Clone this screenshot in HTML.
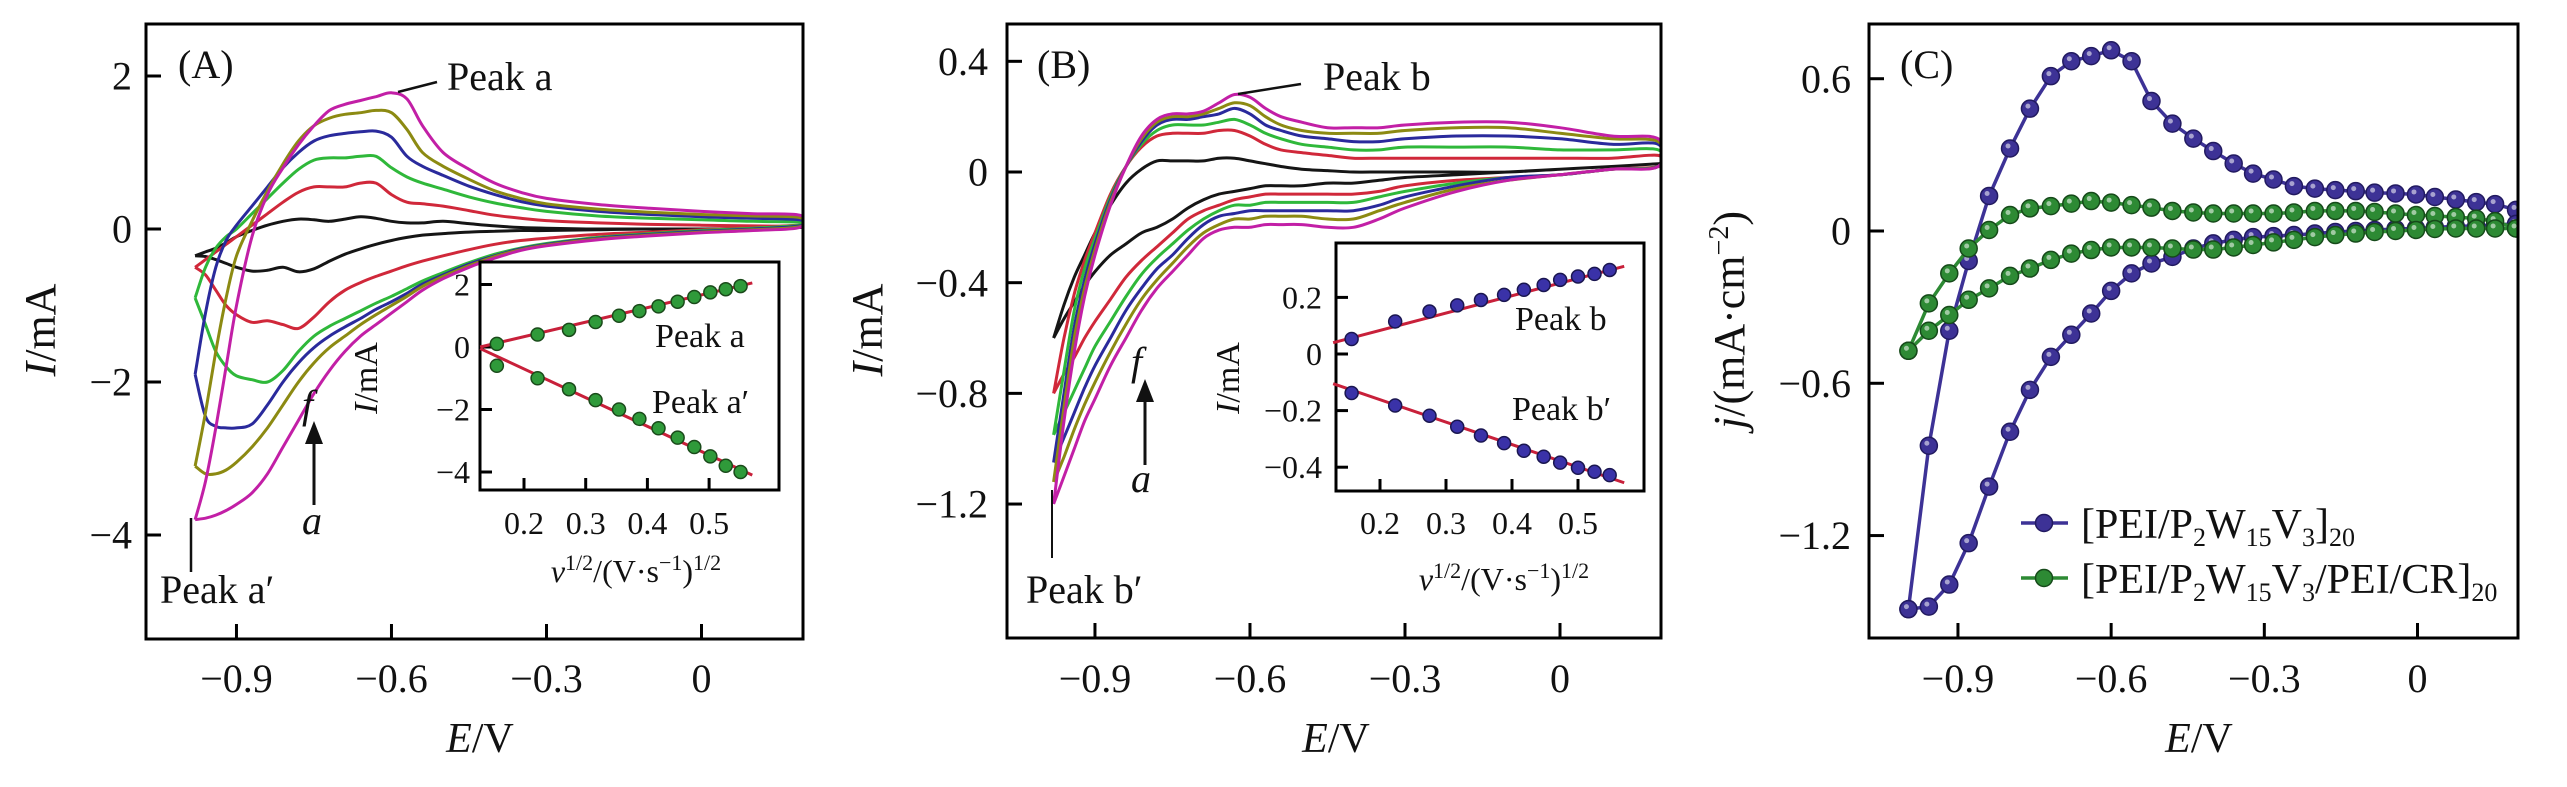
<!DOCTYPE html>
<html><head><meta charset="utf-8">
<style>
html,body{margin:0;padding:0;background:#fff;}
svg{display:block;font-family:"Liberation Serif",serif;}
</style></head>
<body>
<svg id="fig" width="2567" height="787" viewBox="0 0 2567 787" xmlns="http://www.w3.org/2000/svg">
</svg>
<script>
// ---------- DATA ----------
const gridE = [-0.98,-0.96,-0.94,-0.92,-0.9,-0.87,-0.84,-0.81,-0.78,-0.75,-0.72,-0.69,-0.66,-0.63,-0.6,-0.57,-0.54,-0.5,-0.45,-0.4,-0.35,-0.3,-0.2,-0.1,0,0.1,0.19];
const curveNames = ['a-black','b-red','c-green','d-blue','e-olive','f-magenta'];
const curveColors = ['#151515','#d0283a','#2fb83a','#2a2a9c','#8c8a12','#c21fa6'];
// Panel A (I / mA)
const aUpperK = [-0.35,-0.3,-0.25,-0.18,-0.1,-0.02,0.05,0.1,0.13,0.12,0.1,0.13,0.16,0.14,0.1,0.08,0.08,0.1,0.07,0.04,0.02,0.01,0,0,0,0.01,0.02];
const aLowerK = [-0.35,-0.36,-0.4,-0.45,-0.5,-0.55,-0.54,-0.5,-0.56,-0.52,-0.42,-0.33,-0.26,-0.2,-0.15,-0.11,-0.08,-0.06,-0.04,-0.03,-0.02,-0.02,-0.01,0,0,0.01,0.02];
const aUpperR = [-0.5,-0.4,-0.3,-0.2,-0.1,0.05,0.2,0.35,0.48,0.55,0.55,0.55,0.6,0.6,0.45,0.35,0.33,0.3,0.24,0.18,0.14,0.11,0.08,0.06,0.05,0.04,0.04];
const aLowerR = [-0.5,-0.6,-0.8,-1.0,-1.12,-1.22,-1.2,-1.25,-1.3,-1.15,-0.95,-0.8,-0.7,-0.62,-0.55,-0.48,-0.42,-0.35,-0.27,-0.2,-0.15,-0.12,-0.07,-0.04,-0.01,0.02,0.05];
const aUpperG = [-0.9,-0.5,-0.25,-0.1,0.0,0.2,0.4,0.6,0.78,0.9,0.93,0.93,0.95,0.95,0.8,0.68,0.6,0.52,0.42,0.34,0.28,0.23,0.17,0.14,0.12,0.1,0.09];
const aLowerG = [-0.9,-1.25,-1.6,-1.8,-1.92,-1.97,-2.0,-1.85,-1.6,-1.4,-1.27,-1.17,-1.07,-0.97,-0.88,-0.78,-0.68,-0.57,-0.44,-0.33,-0.25,-0.19,-0.11,-0.06,-0.02,0.01,0.05];
const aUpperB = [-1.9,-1.1,-0.5,-0.15,0.05,0.3,0.55,0.8,1.0,1.15,1.22,1.25,1.27,1.28,1.2,0.95,0.82,0.7,0.56,0.45,0.36,0.3,0.23,0.19,0.16,0.14,0.12];
const aLowerB = [-1.9,-2.45,-2.58,-2.6,-2.6,-2.55,-2.3,-2.0,-1.75,-1.55,-1.4,-1.28,-1.17,-1.05,-0.95,-0.84,-0.72,-0.6,-0.46,-0.35,-0.26,-0.2,-0.12,-0.07,-0.03,0,0.04];
const aUpperO = [-3.1,-2.4,-1.6,-0.9,-0.35,0.1,0.5,0.85,1.15,1.35,1.45,1.5,1.52,1.55,1.52,1.3,1.0,0.82,0.65,0.5,0.4,0.33,0.26,0.22,0.19,0.17,0.15];
const aLowerO = [-3.1,-3.2,-3.2,-3.15,-3.05,-2.85,-2.6,-2.3,-2.0,-1.75,-1.55,-1.4,-1.25,-1.12,-1.0,-0.88,-0.75,-0.62,-0.48,-0.36,-0.27,-0.21,-0.13,-0.08,-0.04,-0.01,0.03];
const aUpperM = [-3.8,-3.3,-2.6,-1.8,-1.0,-0.1,0.45,0.8,1.1,1.35,1.55,1.63,1.68,1.73,1.78,1.7,1.35,1.0,0.78,0.6,0.48,0.4,0.32,0.27,0.23,0.2,0.18];
const aLowerM = [-3.8,-3.78,-3.74,-3.68,-3.6,-3.45,-3.2,-2.85,-2.5,-2.15,-1.85,-1.6,-1.4,-1.25,-1.1,-0.95,-0.8,-0.65,-0.5,-0.38,-0.28,-0.22,-0.14,-0.09,-0.05,-0.02,0.02];
// Panel B (I / mA)
const bUpperK = [-0.6,-0.48,-0.38,-0.3,-0.22,-0.12,-0.04,0.01,0.04,0.04,0.04,0.04,0.05,0.05,0.04,0.03,0.02,0.01,0.005,0,0,0,0,0,0.01,0.02,0.03];
const bLowerK = [-0.6,-0.53,-0.47,-0.41,-0.36,-0.3,-0.26,-0.22,-0.2,-0.17,-0.13,-0.1,-0.08,-0.07,-0.06,-0.05,-0.05,-0.05,-0.04,-0.04,-0.03,-0.02,-0.01,0,0.01,0.02,0.03];
const bUpperR = [-0.8,-0.6,-0.44,-0.32,-0.22,-0.08,0.02,0.09,0.13,0.14,0.14,0.14,0.15,0.15,0.13,0.1,0.08,0.07,0.06,0.05,0.05,0.05,0.05,0.05,0.05,0.05,0.06];
const bLowerR = [-0.8,-0.73,-0.67,-0.6,-0.54,-0.46,-0.38,-0.32,-0.27,-0.22,-0.17,-0.14,-0.12,-0.1,-0.09,-0.08,-0.08,-0.08,-0.08,-0.08,-0.07,-0.05,-0.03,-0.02,-0.01,0.01,0.02];
const bUpperG = [-0.95,-0.72,-0.5,-0.35,-0.24,-0.09,0.02,0.1,0.15,0.17,0.17,0.17,0.18,0.19,0.17,0.14,0.12,0.1,0.09,0.08,0.08,0.09,0.09,0.09,0.08,0.08,0.08];
const bLowerG = [-0.95,-0.87,-0.79,-0.71,-0.63,-0.54,-0.45,-0.37,-0.31,-0.26,-0.21,-0.17,-0.14,-0.12,-0.12,-0.11,-0.11,-0.11,-0.11,-0.11,-0.09,-0.07,-0.04,-0.02,-0.01,0.01,0.02];
const bUpperB = [-1.05,-0.8,-0.56,-0.39,-0.26,-0.1,0.02,0.11,0.17,0.19,0.19,0.2,0.21,0.23,0.21,0.17,0.15,0.13,0.12,0.11,0.11,0.12,0.13,0.13,0.12,0.1,0.1];
const bLowerB = [-1.05,-0.96,-0.87,-0.78,-0.7,-0.6,-0.5,-0.42,-0.35,-0.3,-0.24,-0.19,-0.16,-0.15,-0.14,-0.14,-0.14,-0.14,-0.14,-0.14,-0.12,-0.09,-0.05,-0.02,-0.01,0.01,0.02];
const bUpperO = [-1.12,-0.85,-0.6,-0.42,-0.28,-0.11,0.02,0.12,0.18,0.2,0.2,0.21,0.23,0.25,0.24,0.2,0.17,0.15,0.14,0.14,0.14,0.15,0.16,0.16,0.14,0.12,0.11];
const bLowerO = [-1.12,-1.03,-0.93,-0.84,-0.76,-0.65,-0.55,-0.46,-0.39,-0.33,-0.27,-0.22,-0.19,-0.17,-0.17,-0.16,-0.16,-0.16,-0.17,-0.17,-0.14,-0.11,-0.06,-0.03,-0.01,0.01,0.02];
const bUpperM = [-1.2,-0.9,-0.65,-0.45,-0.3,-0.12,0.02,0.13,0.19,0.21,0.21,0.22,0.25,0.28,0.27,0.23,0.2,0.18,0.16,0.16,0.16,0.17,0.18,0.18,0.16,0.13,0.12];
const bLowerM = [-1.2,-1.1,-1.0,-0.9,-0.82,-0.7,-0.6,-0.5,-0.42,-0.36,-0.3,-0.24,-0.21,-0.2,-0.2,-0.19,-0.19,-0.19,-0.2,-0.2,-0.17,-0.13,-0.07,-0.03,-0.01,0.01,0.02];
// Insets
const insetAV = [0.156,0.222,0.273,0.316,0.354,0.387,0.418,0.449,0.476,0.502,0.527,0.551];
const insetAPeak = [0.1,0.4,0.55,0.8,1.0,1.15,1.3,1.45,1.6,1.75,1.85,1.95];
const insetAPeakP = [-0.6,-1.0,-1.35,-1.7,-2.0,-2.3,-2.6,-2.9,-3.2,-3.5,-3.8,-4.0];
const insetAFitV = [0.129,0.57];
const insetAFitPeak = [0.0,2.05];
const insetAFitPeakP = [-0.05,-4.1];
const insetBV = [0.157,0.223,0.275,0.317,0.353,0.388,0.418,0.448,0.473,0.5,0.525,0.548];
const insetBPeak = [0.053,0.115,0.15,0.172,0.191,0.209,0.227,0.244,0.262,0.274,0.283,0.297];
const insetBPeakP = [-0.138,-0.182,-0.218,-0.257,-0.288,-0.315,-0.342,-0.363,-0.384,-0.402,-0.416,-0.428];
const insetBFitV = [0.129,0.57];
const insetBFitPeak = [0.04,0.31];
const insetBFitPeakP = [-0.105,-0.455];
// Panel C (j / mA cm^-2)
const cE = [-0.997,-0.957,-0.917,-0.879,-0.839,-0.798,-0.759,-0.718,-0.678,-0.639,-0.6,-0.56,-0.521,-0.48,-0.439,-0.4,-0.36,-0.322,-0.282,-0.242,-0.201,-0.161,-0.121,-0.084,-0.043,-0.003,0.034,0.075,0.115,0.152,0.193];
const cBlueUpper = [-1.49,-0.846,-0.393,-0.118,0.138,0.325,0.482,0.61,0.669,0.689,0.712,0.669,0.512,0.423,0.364,0.315,0.266,0.226,0.203,0.177,0.167,0.161,0.157,0.151,0.148,0.144,0.134,0.124,0.114,0.106,0.083];
const cBlueLower = [-1.49,-1.48,-1.393,-1.23,-1.007,-0.791,-0.626,-0.496,-0.409,-0.325,-0.236,-0.167,-0.128,-0.102,-0.069,-0.049,-0.035,-0.024,-0.02,-0.016,-0.01,-0.004,0,0.004,0.008,0.01,0.014,0.018,0.02,0.024,0.028];
const cGreenUpper = [-0.472,-0.285,-0.167,-0.069,0.004,0.063,0.089,0.098,0.108,0.118,0.112,0.102,0.092,0.079,0.073,0.069,0.069,0.069,0.069,0.073,0.079,0.079,0.079,0.075,0.069,0.063,0.059,0.055,0.049,0.039,0.01];
const cGreenLower = [-0.472,-0.393,-0.331,-0.271,-0.226,-0.177,-0.148,-0.114,-0.089,-0.075,-0.065,-0.065,-0.065,-0.069,-0.073,-0.073,-0.065,-0.055,-0.045,-0.035,-0.024,-0.016,-0.01,-0.004,0,0.004,0.008,0.01,0.01,0.01,0.01];
const xTicks = [-0.9,-0.6,-0.3,0];
const xTickLabels = ['\u22120.9','\u22120.6','\u22120.3','0'];
const aYTicks = [2,0,-2,-4];
const aYTickLabels = ['2','0','\u22122','\u22124'];
const bYTicks = [0.4,0,-0.4,-0.8,-1.2];
const bYTickLabels = ['0.4','0','\u22120.4','\u22120.8','\u22121.2'];
const cYTicks = [0.6,0,-0.6,-1.2];
const cYTickLabels = ['0.6','0','\u22120.6','\u22121.2'];
const insetXTicks = [0.2,0.3,0.4,0.5];
const insetXTickLabels = ['0.2','0.3','0.4','0.5'];
const insetAYTicks = [2,0,-2,-4];
const insetAYTickLabels = ['2','0','\u22122','\u22124'];
const insetBYTicks = [0.2,0,-0.2,-0.4];
const insetBYTickLabels = ['0.2','0','\u22120.2','\u22120.4'];

// ---------- DRAWING ----------
const NS = 'http://www.w3.org/2000/svg';
const svg = document.getElementById('fig');
function el(tag, attrs, parent){
  const e = document.createElementNS(NS, tag);
  for (const k in attrs) e.setAttribute(k, attrs[k]);
  (parent||svg).appendChild(e);
  return e;
}
function smoothPath(pts){
  let d = 'M' + pts[0][0].toFixed(1) + ',' + pts[0][1].toFixed(1);
  for (let i=0;i<pts.length-1;i++){
    const p0 = pts[Math.max(0,i-1)], p1 = pts[i], p2 = pts[i+1], p3 = pts[Math.min(pts.length-1,i+2)];
    const c1x = p1[0]+(p2[0]-p0[0])/6, c1y = p1[1]+(p2[1]-p0[1])/6;
    const c2x = p2[0]-(p3[0]-p1[0])/6, c2y = p2[1]-(p3[1]-p1[1])/6;
    d += 'C'+c1x.toFixed(1)+','+c1y.toFixed(1)+' '+c2x.toFixed(1)+','+c2y.toFixed(1)+' '+p2[0].toFixed(1)+','+p2[1].toFixed(1);
  }
  return d;
}
function makeAxes(x0, x1, y0, y1, xs, ys){ return {x0,x1,y0,y1,xs,ys}; }

// Panel axes functions
const axA = makeAxes(146, 803, 24, 639, E => 701.5 + 516.7*E, I => 229 - 76.5*I);
const axB = makeAxes(1007, 1661, 24, 638, E => 1560 + 516.7*E, I => 172 - 276.7*I);
const axC = makeAxes(1869, 2518, 24, 638, E => 2417.5 + 510.6*E, j => 231 - 253.8*j);
const inA = makeAxes(480, 779, 262, 490, v => 524 + (v-0.2)*617, I => 347 - 31.25*I);
const inB = makeAxes(1336, 1644, 243, 491, v => 1380 + (v-0.2)*660, I => 354 - 283*I);

function frame(ax, name, fill){
  const r = el('rect',{x:ax.x0,y:ax.y0,width:ax.x1-ax.x0,height:ax.y1-ax.y0,fill:fill||'none',stroke:'#000','stroke-width':3});
  
  
  return r;
}
function ticks(ax, xt, xl, yt, yl, fs, tlen, xLabY, yLabX, prefix){
  const g = el('g',{});
  
  
  xt.forEach((t,i)=>{
    const x = ax.xs(t);
    el('line',{x1:x,x2:x,y1:ax.y1,y2:ax.y1-tlen,stroke:'#000','stroke-width':3},g);
    const tx = el('text',{x:x,y:xLabY,'font-size':fs,'text-anchor':'middle',fill:'#111'},g);
    tx.textContent = xl[i];
    
    
  });
  yt.forEach((t,i)=>{
    const y = ax.ys(t);
    el('line',{x1:ax.x0,x2:ax.x0+tlen,y1:y,y2:y,stroke:'#000','stroke-width':3},g);
    const tx = el('text',{x:yLabX,y:y+fs*0.34,'font-size':fs,'text-anchor':'end',fill:'#111'},g);
    tx.textContent = yl[i];
    
    
  });
}
function text(x,y,str,fs,name,opts){
  const t = el('text',Object.assign({x:x,y:y,'font-size':fs,fill:'#111'},opts||{}));
  t.innerHTML = str;
  
  
  return t;
}
function cvCurve(ax, E, up, lo, color, name){
  const pts = [];
  for (let i=0;i<E.length;i++) pts.push([ax.xs(E[i]), ax.ys(up[i])]);
  for (let i=E.length-1;i>=0;i--) pts.push([ax.xs(E[i]), ax.ys(lo[i])]);
  const p = el('path',{d:smoothPath(pts),fill:'none',stroke:color,'stroke-width':3,'stroke-linejoin':'round'});
  
  
}
function clip(id, ax){
  const cp = el('clipPath',{id:id});
  el('rect',{x:ax.x0,y:ax.y0,width:ax.x1-ax.x0,height:ax.y1-ax.y0},cp);
}
clip('clipA', axA); clip('clipB', axB); clip('clipC', axC);

// ===== Panel A =====
const gA = el('g',{'clip-path':'url(#clipA)'});


const aUp = [aUpperK,aUpperR,aUpperG,aUpperB,aUpperO,aUpperM];
const aLo = [aLowerK,aLowerR,aLowerG,aLowerB,aLowerO,aLowerM];
aUp.forEach((u,k)=>{
  const pts=[]; gridE.forEach((E,i)=>pts.push([axA.xs(E),axA.ys(u[i])]));
  for (let i=gridE.length-1;i>=0;i--) pts.push([axA.xs(gridE[i]),axA.ys(aLo[k][i])]);
  const p = el('path',{d:smoothPath(pts),fill:'none',stroke:curveColors[k],'stroke-width':3},gA);
  
  
});
frame(axA,'panel-a-frame');
ticks(axA,xTicks,xTickLabels,aYTicks,aYTickLabels,40,15,692,132,'panel-a');
text(178,78,'(A)',40,'panel-a-label');
text(447,90,'Peak a',40,'peak-a-label');
el('line',{x1:398,y1:92,x2:437,y2:82,stroke:'#111','stroke-width':2.5});
text(160,603,'Peak a′',40,'peak-a-prime-label');
el('line',{x1:191,y1:518,x2:191,y2:572,stroke:'#111','stroke-width':2.5});
text(302,418,'f',40,'scan-f-label',{'font-style':'italic'});
text(302,534,'a',40,'scan-a-label',{'font-style':'italic'});
el('line',{x1:314,y1:505,x2:314,y2:440,stroke:'#111','stroke-width':3});
el('polygon',{points:'305,444 323,444 314,421',fill:'#111'});
text(480,752,'<tspan font-style="italic">E</tspan>/V',42,'panel-a-x-title',{'text-anchor':'middle'});
text(0,0,'<tspan font-style="italic">I</tspan>/mA',44,'panel-a-y-title',{'text-anchor':'middle',transform:'translate(55,330) rotate(-90)'});

// inset A
frame(inA,'inset-a-frame','#fff');
ticks(inA,insetXTicks,insetXTickLabels,insetAYTicks,insetAYTickLabels,32,12,534,470,'inset-a');
function insetSeries(ax, V, Y, fitV, fitY, color, edge, name){
  el('line',{x1:ax.xs(fitV[0]),y1:ax.ys(fitY[0]),x2:ax.xs(fitV[1]),y2:ax.ys(fitY[1]),stroke:'#c8203a','stroke-width':3});
  V.forEach((v,i)=>{
    const c = el('circle',{cx:ax.xs(v),cy:ax.ys(Y[i]),r:6.5,fill:color,stroke:edge,'stroke-width':1.5});
    
    
  });
}
insetSeries(inA,insetAV,insetAPeak,insetAFitV,insetAFitPeak,'#2f9a3a','#1a4a1a','inset-a-peak-a');
insetSeries(inA,insetAV,insetAPeakP,insetAFitV,insetAFitPeakP,'#2f9a3a','#1a4a1a','inset-a-peak-a-prime');
text(655,347,'Peak a',34,'inset-a-peak-a-label');
text(652,413,'Peak a′',34,'inset-a-peak-a-prime-label');
text(636,582,'<tspan font-style="italic">v</tspan><tspan font-size="22" dy="-12">1/2</tspan><tspan dy="12">/(V·s</tspan><tspan font-size="22" dy="-12">−1</tspan><tspan dy="12">)</tspan><tspan font-size="22" dy="-12">1/2</tspan>',32,'inset-a-x-title',{'text-anchor':'middle'});
text(0,0,'<tspan font-style="italic">I</tspan>/mA',34,'inset-a-y-title',{'text-anchor':'middle',transform:'translate(377,378) rotate(-90)'});

// ===== Panel B =====
const gB = el('g',{'clip-path':'url(#clipB)'});


const bUp = [bUpperK,bUpperR,bUpperG,bUpperB,bUpperO,bUpperM];
const bLo = [bLowerK,bLowerR,bLowerG,bLowerB,bLowerO,bLowerM];
bUp.forEach((u,k)=>{
  const pts=[]; gridE.forEach((E,i)=>pts.push([axB.xs(E),axB.ys(u[i])]));
  for (let i=gridE.length-1;i>=0;i--) pts.push([axB.xs(gridE[i]),axB.ys(bLo[k][i])]);
  const p = el('path',{d:smoothPath(pts),fill:'none',stroke:curveColors[k],'stroke-width':3},gB);
  
  
});
frame(axB,'panel-b-frame');
ticks(axB,xTicks,xTickLabels,bYTicks,bYTickLabels,40,15,692,988,'panel-b');
text(1037,78,'(B)',40,'panel-b-label');
text(1323,90,'Peak b',40,'peak-b-label');
el('line',{x1:1238,y1:94,x2:1301,y2:84,stroke:'#111','stroke-width':2.5});
text(1026,603,'Peak b′',40,'peak-b-prime-label');
el('line',{x1:1052,y1:490,x2:1052,y2:558,stroke:'#111','stroke-width':2});
text(1131,375,'f',40,'panel-b-scan-f-label',{'font-style':'italic'});
text(1131,492,'a',40,'panel-b-scan-a-label',{'font-style':'italic'});
el('line',{x1:1145,y1:465,x2:1145,y2:398,stroke:'#111','stroke-width':3});
el('polygon',{points:'1136,402 1154,402 1145,379',fill:'#111'});
text(1336,752,'<tspan font-style="italic">E</tspan>/V',42,'panel-b-x-title',{'text-anchor':'middle'});
text(0,0,'<tspan font-style="italic">I</tspan>/mA',44,'panel-b-y-title',{'text-anchor':'middle',transform:'translate(882,330) rotate(-90)'});

frame(inB,'inset-b-frame','#fff');
ticks(inB,insetXTicks,insetXTickLabels,insetBYTicks,insetBYTickLabels,32,12,534,1322,'inset-b');
insetSeries(inB,insetBV,insetBPeak,insetBFitV,insetBFitPeak,'#3a32a8','#1a1650','inset-b-peak-b');
insetSeries(inB,insetBV,insetBPeakP,insetBFitV,insetBFitPeakP,'#3a32a8','#1a1650','inset-b-peak-b-prime');
text(1515,330,'Peak b',34,'inset-b-peak-b-label');
text(1512,420,'Peak b′',34,'inset-b-peak-b-prime-label');
text(1504,590,'<tspan font-style="italic">v</tspan><tspan font-size="22" dy="-12">1/2</tspan><tspan dy="12">/(V·s</tspan><tspan font-size="22" dy="-12">−1</tspan><tspan dy="12">)</tspan><tspan font-size="22" dy="-12">1/2</tspan>',32,'inset-b-x-title',{'text-anchor':'middle'});
text(0,0,'<tspan font-style="italic">I</tspan>/mA',34,'inset-b-y-title',{'text-anchor':'middle',transform:'translate(1239,378) rotate(-90)'});

// ===== Panel C =====
const gC = el('g',{'clip-path':'url(#clipC)'});


function markerSeries(up, lo, color, edge, name){
  const pts=[]; cE.forEach((E,i)=>pts.push([axC.xs(E),axC.ys(up[i])]));
  for (let i=cE.length-1;i>=0;i--) pts.push([axC.xs(cE[i]),axC.ys(lo[i])]);
  const p = el('polyline',{points:pts.map(q=>q[0].toFixed(1)+','+q[1].toFixed(1)).join(' '),fill:'none',stroke:color,'stroke-width':3.5},gC);
  
  
  pts.forEach(q=>{
    const c = el('circle',{cx:q[0],cy:q[1],r:8.5,fill:color,stroke:edge,'stroke-width':1.5},gC);
    
    
    el('circle',{cx:q[0]-2,cy:q[1]-2.5,r:2.5,fill:'#fff','fill-opacity':0.55},gC);
  });
}
markerSeries(cBlueUpper,cBlueLower,'#3d3296','#221a60','pei-p2w15v3-series');
markerSeries(cGreenUpper,cGreenLower,'#2d8a34','#164a1a','pei-p2w15v3-pei-cr-series');
frame(axC,'panel-c-frame');
ticks(axC,xTicks,xTickLabels,cYTicks,cYTickLabels,40,15,692,1851,'panel-c');
text(1900,78,'(C)',40,'panel-c-label');
text(2199,752,'<tspan font-style="italic">E</tspan>/V',42,'panel-c-x-title',{'text-anchor':'middle'});
text(0,0,'<tspan font-style="italic">j</tspan>/(mA·cm<tspan font-size="28" dy="-16">−2</tspan><tspan dy="16">)</tspan>',44,'panel-c-y-title',{'text-anchor':'middle',transform:'translate(1744,320) rotate(-90)'});
// legend
function legendEntry(y, color, edge, html, name){
  const g = el('g',{});
  
  
  el('line',{x1:2021,x2:2068,y1:y,y2:y,stroke:color,'stroke-width':3.5},g);
  el('circle',{cx:2044,cy:y,r:8.5,fill:color,stroke:edge,'stroke-width':1.5},g);
  const t = el('text',{x:2081,y:y+15,'font-size':42,fill:'#111'},g);
  t.innerHTML = html;
}
legendEntry(523,'#3d3296','#221a60','[PEI/P<tspan font-size="26" dy="8">2</tspan><tspan dy="-8">W</tspan><tspan font-size="26" dy="8">15</tspan><tspan dy="-8">V</tspan><tspan font-size="26" dy="8">3</tspan><tspan dy="-8">]</tspan><tspan font-size="26" dy="8">20</tspan>','legend-entry-pei-p2w15v3');
legendEntry(578,'#2d8a34','#164a1a','[PEI/P<tspan font-size="26" dy="8">2</tspan><tspan dy="-8">W</tspan><tspan font-size="26" dy="8">15</tspan><tspan dy="-8">V</tspan><tspan font-size="26" dy="8">3</tspan><tspan dy="-8">/PEI/CR]</tspan><tspan font-size="26" dy="8">20</tspan>','legend-entry-pei-p2w15v3-pei-cr');
</script>
</body></html>
